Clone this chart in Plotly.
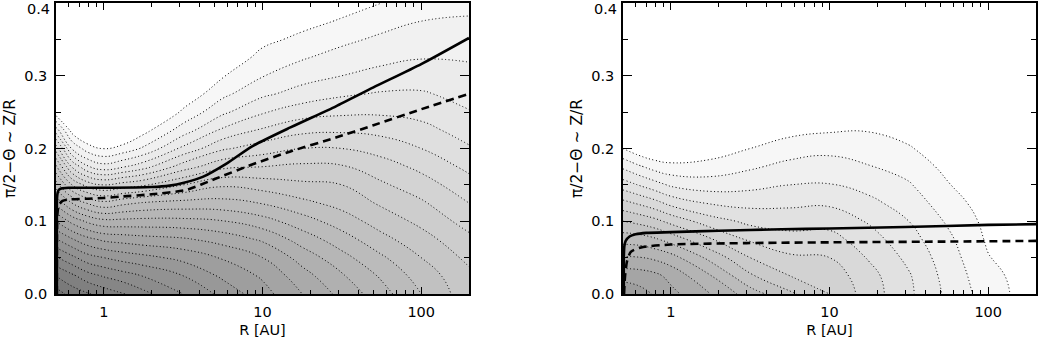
import math
import plotly.graph_objects as go

# ---------------- grid coordinates ----------------
R_LEFT = [0.5, 0.631, 0.794, 1.0, 1.318, 1.778, 3.162, 5.623, 10.0, 17.78, 31.62, 56.23, 100.0, 200.0]
Y_LEFT = [0.0, 0.025, 0.05, 0.075, 0.1, 0.125, 0.15, 0.175, 0.2, 0.225,
          0.25, 0.275, 0.3, 0.325, 0.35, 0.375, 0.4]

# contour level index, one list per radius (bottom -> top)
LEFT_COLS = [
    [23.5, 22.0, 20.1, 18.1, 16.0, 13.75, 11.45, 9.2, 6.55, 3.5, 0.4, -2.0, -3.5, -4.5, -5.2, -5.8, -6.3],
    [22.6, 21.2, 19.25, 17.1, 14.7, 12.0, 9.0, 5.9, 2.9, 0.6, -1.3, -2.6, -3.5, -4.2, -4.8, -5.3, -5.7],
    [22.1, 20.4, 18.4, 16.3, 13.8, 10.9, 7.55, 4.1, 1.45, -0.4, -1.6, -2.5, -3.2, -3.8, -4.3, -4.7, -5.0],
    [21.6, 19.9, 18.0, 15.8, 13.3, 10.3, 7.0, 3.4, 0.92, -0.6, -1.5, -2.2, -2.8, -3.3, -3.7, -4.0, -4.3],
    [21.1, 19.44, 17.6, 15.6, 13.3, 10.75, 7.43, 3.9, 1.38, -0.4, -1.5, -2.3, -2.9, -3.4, -3.8, -4.1, -4.4],
    [20.3, 18.95, 17.3, 15.4, 13.35, 11.1, 7.85, 4.6, 2.15, 0.65, -0.8, -1.8, -2.5, -3.1, -3.6, -4.0, -4.3],
    [19.0, 18.0, 16.7, 15.15, 13.3, 11.35, 9.0, 6.5, 4.25, 2.5, 1.2, 0.2, -0.7, -1.5, -2.2, -2.8, -3.3],
    [17.7, 16.8, 15.9, 14.6, 13.05, 11.35, 9.85, 7.75, 5.85, 4.2, 2.8, 1.75, 0.92, 0.2, -0.5, -1.1, -1.6],
    [16.4, 15.85, 15.0, 13.85, 12.4, 10.95, 9.55, 8.0, 6.5, 5.15, 3.9, 2.8, 1.95, 1.33, 0.72, 0.2, -0.3],
    [15.0, 14.4, 13.6, 12.55, 11.45, 10.25, 9.2, 8.2, 7.0, 5.75, 4.55, 3.4, 2.6, 1.9, 1.25, 0.65, 0.1],
    [13.7, 13.12, 12.33, 11.46, 10.5, 9.66, 9.0, 8.1, 7.0, 5.85, 4.8, 3.85, 3.0, 2.4, 1.75, 1.1, 0.55],
    [12.4, 11.85, 11.15, 10.3, 9.55, 8.85, 8.15, 7.45, 6.6, 5.7, 4.85, 4.1, 3.3, 2.75, 2.2, 1.6, 1.0],
    [11.0, 10.55, 10.0, 9.4, 8.75, 8.15, 7.45, 6.75, 6.0, 5.3, 4.7, 4.1, 3.55, 2.95, 2.45, 2.0, 1.6],
    [9.4, 9.25, 8.75, 8.25, 7.6, 7.0, 6.4, 5.75, 5.1, 4.6, 4.05, 3.7, 3.3, 2.9, 2.5, 2.1, 1.75],
]

R_RIGHT = [0.5, 0.631, 0.794, 1.0, 1.778, 3.162, 5.623, 10.0, 17.78, 31.62, 56.23, 100.0, 200.0]
Y_RIGHT = [0.0, 0.025, 0.05, 0.075, 0.1, 0.125, 0.15, 0.175, 0.2, 0.225, 0.25, 0.275, 0.3]

RIGHT_COLS = [
    [13.8, 12.6, 11.1, 9.6, 8.0, 6.3, 4.5, 2.8, 1.0, -0.2, -1.2, -2.0, -2.6],
    [13.4, 12.5, 11.05, 9.5, 7.7, 5.85, 3.95, 2.15, 0.3, -0.8, -1.7, -2.4, -3.0],
    [12.9, 12.25, 10.8, 9.15, 7.3, 5.35, 3.4, 1.6, -0.1, -1.1, -1.9, -2.6, -3.1],
    [12.3, 11.7, 10.4, 8.6, 6.7, 4.7, 2.85, 1.3, -0.1, -1.0, -1.8, -2.5, -3.0],
    [11.0, 10.05, 8.7, 7.1, 5.45, 3.9, 2.5, 1.4, 0.4, -0.5, -1.3, -2.0, -2.6],
    [9.5, 8.15, 7.0, 5.85, 4.75, 3.7, 2.7, 1.85, 1.0, 0.2, -0.5, -1.2, -1.8],
    [8.2, 7.0, 6.15, 5.4, 4.55, 3.8, 3.0, 2.3, 1.5, 0.7, 0.0, -0.6, -1.1],
    [7.0, 6.6, 6.0, 5.4, 4.6, 3.85, 3.05, 2.45, 1.7, 0.9, 0.3, -0.2, -0.6],
    [5.5, 5.35, 4.9, 4.4, 3.9, 3.25, 2.65, 2.05, 1.5, 0.95, 0.4, -0.1, -0.5],
    [4.2, 4.1, 3.75, 3.4, 3.0, 2.55, 2.1, 1.6, 1.1, 0.6, 0.1, -0.3, -0.6],
    [2.75, 2.6, 2.45, 2.2, 1.85, 1.45, 1.05, 0.7, 0.35, 0.0, -0.3, -0.6, -0.9],
    [1.5, 1.35, 1.05, 0.85, 0.7, 0.5, 0.25, 0.0, -0.2, -0.4, -0.6, -0.8, -1.0],
    [0.4, 0.35, 0.25, 0.15, 0.0, -0.2, -0.4, -0.6, -0.8, -1.0, -1.2, -1.4, -1.6],
]

# ---------------- overlay curves ----------------
LEFT_SOLID_R = [0.506, 0.506, 0.508, 0.512, 0.52, 0.54, 0.6, 1.0, 2.0, 2.6, 3.2, 4.2, 6.0, 8.6, 15.0, 29.0, 50.0, 100.0, 200.0]
LEFT_SOLID_Y = [0.0, 0.12, 0.133, 0.139, 0.143, 0.145, 0.146, 0.146, 0.147, 0.149, 0.153, 0.161, 0.18, 0.203, 0.229, 0.258, 0.284, 0.316, 0.352]
LEFT_DASH_R = [0.506, 0.507, 0.51, 0.52, 0.55, 0.6, 0.8, 1.0, 1.3, 2.0, 3.3, 5.0, 8.6, 15.0, 29.0, 50.0, 100.0, 200.0]
LEFT_DASH_Y = [0.0, 0.08, 0.11, 0.122, 0.128, 0.13, 0.131, 0.132, 0.134, 0.137, 0.143, 0.158, 0.178, 0.196, 0.215, 0.232, 0.254, 0.275]

RIGHT_SOLID_R = [0.506, 0.506, 0.51, 0.52, 0.55, 0.6, 0.7, 1.0, 2.0, 5.0, 10.0, 30.0, 100.0, 200.0]
RIGHT_SOLID_Y = [0.0, 0.05, 0.066, 0.073, 0.079, 0.082, 0.084, 0.085, 0.087, 0.089, 0.09, 0.092, 0.095, 0.096]
RIGHT_DASH_R = [0.507, 0.515, 0.53, 0.56, 0.65, 1.0, 3.0, 10.0, 50.0, 200.0]
RIGHT_DASH_Y = [0.0, 0.025, 0.045, 0.058, 0.064, 0.068, 0.07, 0.071, 0.072, 0.073]

# ---------------- axis labels ----------------
X_TICKS = [1, 10, 100]
X_TICKTEXT = ["1", "10", "100"]
X_MINOR = [0.6, 0.7, 0.8, 0.9, 2, 3, 4, 5, 6, 7, 8, 9, 20, 30, 40, 50, 60, 70, 80, 90]
Y_TICKS = [0.0, 0.1, 0.2, 0.3, 0.4]
Y_TICKTEXT = ["0.0", "0.1", "0.2", "0.3", ""]   # the top label is placed inside the page below
Y_TOP_LABEL = "0.4"
Y_MINOR = [0.05, 0.15, 0.25, 0.35]
X_TITLE = "R [AU]"
Y_TITLE = "π/2−Θ ~ Z/R"

LEFT_LEVELS = dict(start=1, end=23, size=1)
RIGHT_LEVELS = dict(start=1, end=14, size=1)
LEFT_GREYS = [[0.0, "rgb(255,255,255)"], [1 / 23, "rgb(247,247,247)"], [1.0, "rgb(116,116,116)"]]
RIGHT_GREYS = [[0.0, "rgb(255,255,255)"], [1 / 14, "rgb(247,247,247)"], [1.0, "rgb(150,150,150)"]]
FONT = dict(family="DejaVu Sans", size=14.5, color="black")
TITLE_FONT = dict(family="DejaVu Sans", size=15.5, color="black")


def transpose(cols):
    return [list(row) for row in zip(*cols)]


fig = go.Figure()

for cols, rx, yy, lev, greys, xa, ya in [
        (LEFT_COLS, R_LEFT, Y_LEFT, LEFT_LEVELS, LEFT_GREYS, "x", "y"),
        (RIGHT_COLS, R_RIGHT, Y_RIGHT, RIGHT_LEVELS, RIGHT_GREYS, "x2", "y2")]:
    fig.add_trace(go.Contour(
        x=rx, y=yy, z=transpose(cols),
        autocontour=False,
        contours=dict(coloring="fill", showlines=True, **lev),
        colorscale=greys, showscale=False,
        line=dict(color="black", width=1.0, dash="1px,2.5px", smoothing=1.3),
        hoverinfo="skip", xaxis=xa, yaxis=ya,
    ))

for (rs, ys, dash, xa, ya) in [
    (LEFT_SOLID_R, LEFT_SOLID_Y, "solid", "x", "y"),
    (LEFT_DASH_R, LEFT_DASH_Y, "8px,5px", "x", "y"),
    (RIGHT_SOLID_R, RIGHT_SOLID_Y, "solid", "x2", "y2"),
    (RIGHT_DASH_R, RIGHT_DASH_Y, "8px,5px", "x2", "y2"),
]:
    fig.add_trace(go.Scatter(x=rs, y=ys, mode="lines",
                             line=dict(color="black", width=2.6, dash=dash,
                                       shape="spline", smoothing=0.6),
                             hoverinfo="skip", showlegend=False,
                             xaxis=xa, yaxis=ya))

xcommon = dict(
    type="log", range=[math.log10(0.5), math.log10(200)],
    tickmode="array", tickvals=X_TICKS, ticktext=X_TICKTEXT,
    ticks="inside", ticklen=7, tickwidth=1.3, tickcolor="black",
    minor=dict(tickmode="array", tickvals=X_MINOR, ticks="inside", ticklen=4,
               tickwidth=1.1, tickcolor="black", showgrid=False),
    showline=True, linecolor="black", linewidth=1.6, mirror="allticks",
    showgrid=False, zeroline=False, tickfont=FONT, ticklabelstandoff=4,
    ticklabeloverflow="allow",
    title=dict(text=X_TITLE, font=FONT, standoff=6),
)
ycommon = dict(
    range=[0, 0.4], tickmode="array", tickvals=Y_TICKS, ticktext=Y_TICKTEXT,
    ticks="inside", ticklen=9, tickwidth=1.3, tickcolor="black",
    minor=dict(tickmode="array", tickvals=Y_MINOR, ticks="inside", ticklen=5,
               tickwidth=1.1, tickcolor="black", showgrid=False),
    showline=True, linecolor="black", linewidth=1.6, mirror="allticks",
    showgrid=False, zeroline=False, tickfont=FONT, ticklabelstandoff=4,
    ticklabeloverflow="allow",
    title=dict(text=Y_TITLE, font=TITLE_FONT, standoff=5),
)

X1_DOM = [56 / 1039, 469 / 1039]
X2_DOM = [623 / 1039, 1036 / 1039]
Y_DOM = [1 - 294 / 341, 1 - 3 / 341]

fig.update_layout(
    width=1039, height=341,
    margin=dict(l=0, r=0, t=0, b=0, autoexpand=False),
    paper_bgcolor="white", plot_bgcolor="white",
    showlegend=False,
    xaxis=dict(domain=X1_DOM, anchor="y", **xcommon),
    yaxis=dict(domain=Y_DOM, anchor="x", **ycommon),
    xaxis2=dict(domain=X2_DOM, anchor="y2", **xcommon),
    yaxis2=dict(domain=Y_DOM, anchor="x2", **ycommon),
)

# top y tick label, kept just inside the page edge (as in the original)
for xd in (X1_DOM, X2_DOM):
    fig.add_annotation(text=Y_TOP_LABEL, xref="paper", yref="paper",
                       x=xd[0] - 5 / 1039, y=1.0, xanchor="right", yanchor="top",
                       showarrow=False, font=FONT, borderpad=0)

fig.write_html("out.html", config={"displayModeBar": False},
               post_script="document.body.style.margin='0';")
